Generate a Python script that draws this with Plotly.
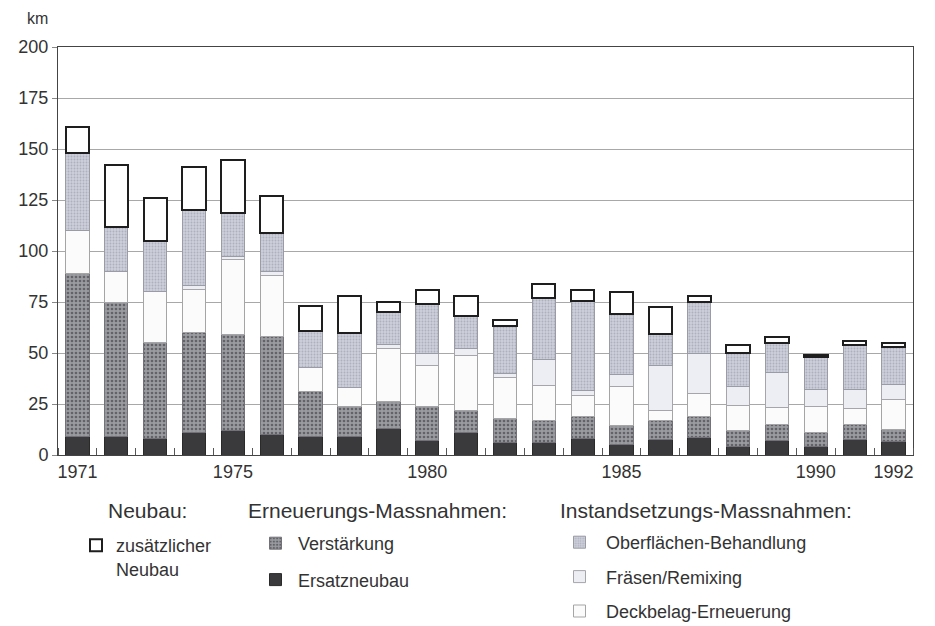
import plotly.graph_objects as go

years = list(range(1971, 1993))
ersatzneubau = [9, 9, 8, 11, 12, 10, 9, 9, 13, 7, 11, 6, 6, 8, 5, 7.5, 8.5, 4, 7, 4, 7.5, 6.5]
verstaerkung = [80, 66, 47, 49, 47, 48, 22, 15, 13, 17, 11, 12, 11, 11, 9.5, 9.5, 10.5, 8, 8, 7, 7.5, 6]
deckbelag = [21, 15, 25, 21, 37, 30, 12, 9, 26, 20, 27, 20, 17, 10, 19, 5, 11, 12.5, 8.5, 13, 8, 14.5]
fraesen = [0, 0, 0, 2, 1.5, 2, 0, 0, 2, 6, 3, 2, 13, 2.5, 6, 22, 20, 9, 17, 8, 9, 7.5]
oberflaeche = [38, 22, 25, 37, 21, 19, 18, 27, 16, 24, 16, 23, 30, 44, 29.5, 15.5, 25, 16.5, 14.5, 16, 22, 18.5]
neubau = [13, 30, 21, 21, 26, 18, 12, 18, 5, 7, 10, 3, 7, 5.5, 10.7, 13, 3, 4, 3, 1, 2, 2]

label_years = [1971, 1975, 1980, 1985, 1990, 1992]
y_ticks = [0, 25, 50, 75, 100, 125, 150, 175, 200]

FONT = "Liberation Sans"
TXT = "#333333"

W, H = 935, 626
ML, MR, MT, MB = 50, 30, 39, 179

fig = go.Figure()

def add(name, vals, color, line_color, line_w, legend, group, rank, pattern=None):
    marker = dict(color=color, line=dict(color=line_color, width=line_w))
    if pattern:
        marker["pattern"] = pattern
    fig.add_trace(go.Bar(
        x=years, y=vals, name=name, width=0.6, marker=marker,
        legend=legend, legendgroup=group, legendrank=rank, hoverinfo="x+y+name",
    ))

add("Ersatzneubau", ersatzneubau, "#3a3a3d", "#2a2a2a", 1, "legend2", "e", 2)
add("Verstärkung", verstaerkung, "#929299", "#727278", 1, "legend2", "v", 1,
    dict(shape=".", fgcolor="#626268", bgcolor="#9a9aa1", size=4, solidity=0.35, fillmode="replace"))
add("Deckbelag-Erneuerung", deckbelag, "#fbfbfb", "#a5a5a5", 1, "legend3", "d", 3)
add("Fräsen/Remixing", fraesen, "#eceef3", "#a5a5aa", 1, "legend3", "f", 2)
add("Oberflächen-Behandlung", oberflaeche, "#c9ccd7", "#9a9ca5", 1, "legend3", "o", 1,
    dict(shape=".", fgcolor="#adb0bd", bgcolor="#cdd0da", size=3, solidity=0.3, fillmode="replace"))
add("zusätzlicher<br>Neubau", neubau, "#ffffff", "#1e1e1e", 2, "legend", "n", 1)

leg_font = dict(size=18, color=TXT, family=FONT)

fig.update_layout(
    width=W, height=H,
    paper_bgcolor="#ffffff", plot_bgcolor="#ffffff",
    barmode="stack", bargap=0.4,
    margin=dict(l=ML, r=MR, t=MT, b=MB, autoexpand=False),
    font=dict(family=FONT, color=TXT, size=16),
    xaxis=dict(
        range=[1970.5, 1992.5],
        tickmode="array", tickvals=label_years, ticktext=[str(y) for y in label_years],
        ticks="", showgrid=False, zeroline=False, tickangle=0,
        showline=True, linecolor="#444444", linewidth=1, mirror=True,
        tickfont=dict(size=18, color=TXT, family=FONT),
        minor=dict(tick0=1970.5, dtick=1, ticks="inside", ticklen=7, tickcolor="#555555", showgrid=False),
    ),
    yaxis=dict(
        range=[0, 200], tickmode="array", tickvals=y_ticks,
        ticks="outside", ticklen=5, tickcolor="#888888",
        showgrid=True, gridcolor="#a8a8a8", gridwidth=1, zeroline=False,
        showline=True, linecolor="#444444", linewidth=1, mirror=True,
        tickfont=dict(size=18, color=TXT, family=FONT),
    ),
    legend=dict(
        xref="container", yref="container", x=68/W, y=1-519/H,
        xanchor="left", yanchor="top", traceorder="normal", valign="top",
        font=leg_font, bgcolor="rgba(0,0,0,0)",
    ),
    legend2=dict(
        xref="container", yref="container", x=245/W, y=1-517/H,
        xanchor="left", yanchor="top", traceorder="grouped", tracegroupgap=10,
        itemwidth=35,
        font=leg_font, bgcolor="rgba(0,0,0,0)",
    ),
    legend3=dict(
        xref="container", yref="container", x=545/W, y=1-516/H,
        xanchor="left", yanchor="top", traceorder="grouped", tracegroupgap=8,
        itemwidth=43,
        font=leg_font, bgcolor="rgba(0,0,0,0)",
    ),
    showlegend=True,
)

PW = W - ML - MR
PH = H - MT - MB
annots = [
    dict(text="km", x=17, y=10, size=16),
    dict(text="Neubau:", x=98, y=502, size=21),
    dict(text="Erneuerungs-Massnahmen:", x=238, y=502, size=21),
    dict(text="Instandsetzungs-Massnahmen:", x=550, y=502, size=21),
]
for a in annots:
    fig.add_annotation(
        text=a["text"], xref="paper", yref="paper",
        x=(a["x"] - ML) / PW, y=1 - (a["y"] - MT) / PH,
        xanchor="left", yanchor="middle", showarrow=False,
        font=dict(size=a["size"], color=TXT, family=FONT),
    )

fig.write_html("out.html")
